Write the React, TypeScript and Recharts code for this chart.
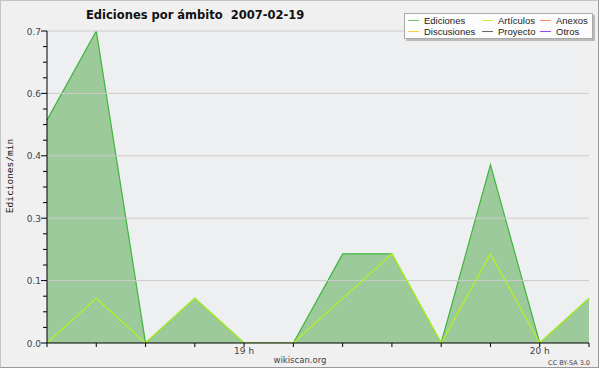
import React from 'react';
import { ComposedChart, Area, Line, XAxis, YAxis, ReferenceLine, ReferenceArea } from 'recharts';

const categories = ['18:20', '18:30', '18:40', '18:50', '19:00', '19:10', '19:20', '19:30', '19:40', '19:50', '20:00', '20:10'];
const xTickLabels = ['', '', '', '', '19 h', '', '', '', '', '', '20 h', ''];
const ediciones = [0.5, 0.7, 0, 0.1, 0, 0, 0.2, 0.2, 0, 0.4, 0, 0.1];
const articulos = [0, 0.1, 0, 0.1, 0, 0, 0.1, 0.2, 0, 0.2, 0, 0.1];
const yMajorTicks = [0, 0.14, 0.28, 0.42, 0.56, 0.7];
const yMinorTicks = [0.035, 0.07, 0.105, 0.175, 0.21, 0.245, 0.315, 0.35, 0.385, 0.455, 0.49, 0.525, 0.595, 0.63, 0.665];
const legendNames = ['Ediciones', 'Artículos', 'Anexos', 'Discusiones', 'Proyecto', 'Otros'];
const legendColors = ['#66cc66', '#ccee33', '#ff8c5a', '#ffcc44', '#666666', '#9944ff'];

const FONT = 'DejaVu Sans';

const YTick = (props: any) => {
  const { x, y, payload } = props;
  const v = payload.value;
  const major = yMajorTicks.some((m) => Math.abs(m - v) < 1e-9);
  return (
    <g>
      <line x1={x - (major ? 6 : 4)} x2={x} y1={y} y2={y} stroke="#000" strokeWidth={1} />
      {major && (
        <text x={x - 6} y={y} dy={3.5} textAnchor="end" fontSize={9} fill="#444" fontFamily={FONT}>
          {v.toFixed(1)}
        </text>
      )}
    </g>
  );
};

export default function App() {
  const data = categories.map((c, i) => ({ idx: i, label: c, ediciones: ediciones[i], articulos: articulos[i] }));
  const cols = [
    [0, 3],
    [1, 4],
    [2, 5],
  ];
  const colLeft = [3, 77, 135];
  return (
    <div style={{ position: 'absolute', left: 0, top: 0, width: 600, height: 370, background: '#ffffff', overflow: 'hidden' }}>
      <div style={{ position: 'absolute', left: 0, top: 0, width: 597, height: 366, background: '#f0f0f0', border: '1px solid #c4c4c4', borderRightColor: '#999', borderBottomColor: '#999' }} />
      <div style={{ position: 'absolute', left: 0, top: 0 }}>
        <ComposedChart width={600} height={370} data={data} margin={{ top: 31, right: 11, bottom: 0, left: 0 }}>
          <XAxis
            dataKey="idx"
            type="number"
            domain={[0, categories.length - 1]}
            ticks={categories.map((_, i) => i)}
            tickFormatter={(v: number) => xTickLabels[v] ?? ''}
            interval={0}
            height={27}
            stroke="#000"
            tickSize={4}
            tickMargin={1}
            tick={{ fontSize: 9, fill: '#444', fontFamily: FONT }}
            allowDecimals={false}
          />
          <YAxis
            type="number"
            domain={[0, 0.7]}
            ticks={[...yMajorTicks, ...yMinorTicks]}
            interval={0}
            width={47}
            tickSize={0}
            tickMargin={0}
            tick={<YTick />}
            stroke="#000"
            allowDataOverflow
          />
          <ReferenceArea x1={0} x2={categories.length - 1} y1={0} y2={0.7} fill="#eeeff1" fillOpacity={1} stroke="none" ifOverflow="visible" />
          {yMajorTicks.slice(1).map((t) => (
            <ReferenceLine key={t} y={t} stroke="#cccccc" strokeWidth={1} />
          ))}
          <Area
            type="linear"
            dataKey="ediciones"
            stroke="#3db53d"
            strokeWidth={1.2}
            fill="#4aa543"
            fillOpacity={0.5}
            dot={false}
            activeDot={false}
            isAnimationActive={false}
          />
          <Line
            type="linear"
            dataKey="articulos"
            stroke="#b8f020"
            strokeWidth={1.2}
            dot={false}
            activeDot={false}
            isAnimationActive={false}
          />
        </ComposedChart>
      </div>
      <svg width={600} height={370} style={{ position: 'absolute', left: 0, top: 0, pointerEvents: 'none' }}>
        <text x={86} y={19} fontFamily={FONT} fontWeight="bold" fontSize={11.5} fill="#111">
          Ediciones por ámbito{'\u00a0\u00a0'}2007-02-19
        </text>
        <text
          x={0}
          y={0}
          transform="translate(13,176) rotate(-90)"
          textAnchor="middle"
          fontFamily="DejaVu Sans Mono"
          fontSize={9.5}
          fill="#111"
        >
          Ediciones/min
        </text>
        <text x={300} y={363} textAnchor="middle" fontFamily={FONT} fontSize={8.5} fill="#444">
          wikiscan.org
        </text>
        <text x={590} y={365} textAnchor="end" fontFamily={FONT} fontSize={6.5} fill="#444">
          CC BY-SA 3.0
        </text>
      </svg>
      <div
        style={{
          position: 'absolute',
          left: 404,
          top: 13,
          width: 187,
          height: 24,
          background: '#fcfcfc',
          border: '1px solid #aaa',
          boxShadow: '2px 2px 0 #bbb',
          fontFamily: 'Liberation Sans',
          fontSize: 9.5,
          color: '#222',
        }}
      >
        {cols.map((col, ci) =>
          col.map((li, ri) => (
            <div
              key={li}
              style={{ position: 'absolute', left: colLeft[ci], top: 1 + ri * 10.5, height: 11, lineHeight: '11px', whiteSpace: 'nowrap', display: 'flex', alignItems: 'center' }}
            >
              <span style={{ display: 'inline-block', width: 11, height: 1, background: legendColors[li], marginRight: 5 }} />
              <span>{legendNames[li]}</span>
            </div>
          ))
        )}
      </div>
    </div>
  );
}
